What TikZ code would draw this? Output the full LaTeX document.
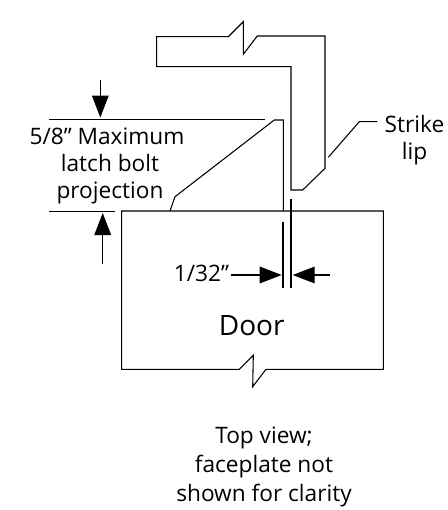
\documentclass[tikz,border=0pt]{standalone}
\usepackage{fontspec}
\setmainfont{Open Sans}
\usetikzlibrary{arrows.meta}
\tikzset{
    outline/.style={line width=0.8pt, line join=miter},
    dimline/.style={line width=0.8pt},
    dimarrow/.style={line width=0.8pt, -{Triangle[length=16.5pt,width=12.5pt]}},
    label/.style={font=\fontsize{17}{20}\selectfont, align=center, inner sep=0pt}
}
\begin{document}
\begin{tikzpicture}[x=0.75pt, y=-0.75pt]
    \useasboundingbox (0,0) rectangle (448,510);

    % Strike
    \draw[outline] (228.3,36.7) -- (156.7,36.7) -- (156.7,66.7) -- (291,66.7) -- (291,190)
        -- (302.7,190) -- (325,168.3) -- (325,36) -- (257.3,36) -- (243.3,54.3)
        -- (243.3,21.7) -- cycle;

    % Porta e trinco
    \draw[outline] (239.3,369.3) -- (121.7,369.3) -- (121.7,211) -- (383.3,211) -- (383.3,369.3)
        -- (266,369.3) -- (252.7,386.7) -- (253.3,355.3) -- cycle;
    \draw[outline] (170,211) -- (175,196.7) -- (274.3,120) -- (283.3,120) -- (283.3,211);

    % Coordenadas das cotas
    \coordinate (topL) at (49,119.3);
    \coordinate (topR) at (265,119.3);
    \coordinate (lowL) at (49,211.5);
    \coordinate (lowR) at (115,211.5);
    \coordinate (topA) at (100.3,80);
    \coordinate (topB) at (100.3,117.5);
    \coordinate (lowA) at (102.7,264);
    \coordinate (lowB) at (102.7,213);
    \coordinate (gapA) at (283,221.7);
    \coordinate (gapB) at (283,287.5);
    \coordinate (gapC) at (291,199.3);
    \coordinate (gapD) at (291,287.5);
    \coordinate (inA) at (230.7,275);
    \coordinate (inB) at (281.7,275);
    \coordinate (inC) at (330,275);
    \coordinate (inD) at (292.7,275);
    \coordinate (lipA) at (328.3,157.3);
    \coordinate (lipB) at (359.3,121.7);
    \coordinate (lipC) at (377.3,121.7);

    % Cotas
    \draw[dimline] (topL) -- (topR);
    \draw[dimline] (lowL) -- (lowR);
    \draw[dimline] (gapA) -- (gapB);
    \draw[dimline] (gapC) -- (gapD);
    \draw[dimarrow] (topA) -- (topB);
    \draw[dimarrow] (lowA) -- (lowB);
    \draw[dimarrow] (inA) -- (inB);
    \draw[dimarrow] (inC) -- (inD);
    \draw[dimline] (lipA) -- (lipB) -- (lipC);

    % Textos
    \node[label] (maxbolt) at (110,166) {5/8” Maximum\hspace*{4.5pt}\\latch bolt\\projection};
    \node[label] (strike) at (414.5,140) {Strike\\lip};
    \node[label, anchor=base] (gap) at (201.5,281) {1/32”};
    \node[label, anchor=base, font=\fontsize{21}{25}\selectfont] (door) at (251.7,335) {Door};
    \node[label, font=\fontsize{17}{22}\selectfont] (view) at (264,467) {Top view;\\faceplate not\\shown for clarity};
\end{tikzpicture}
\end{document}
